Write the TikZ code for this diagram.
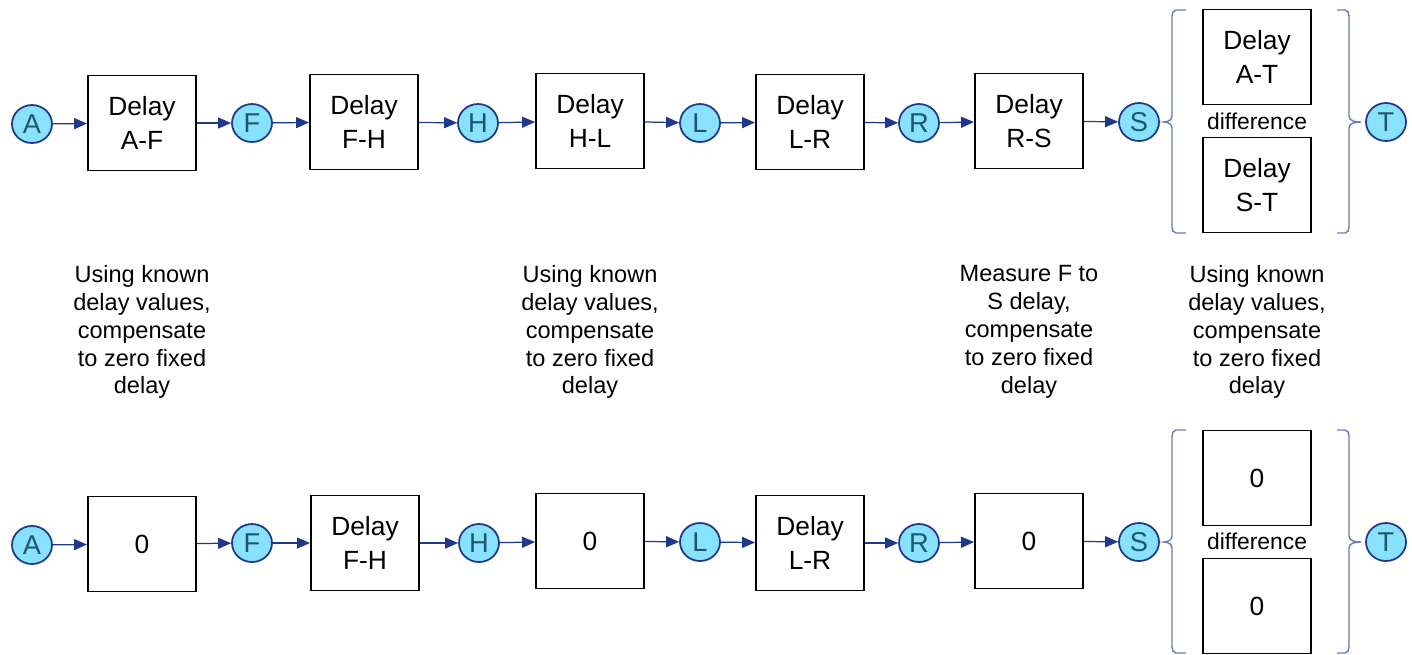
\documentclass[tikz,border=0pt]{standalone}
\usepackage{fontspec}
\setmainfont{Liberation Sans}
\usetikzlibrary{shapes.geometric,arrows.meta}
\definecolor{linkblue}{RGB}{31,56,140}
\definecolor{sigfill}{RGB}{136,226,255}
\definecolor{sigtext}{RGB}{30,88,104}
\definecolor{brkblue}{RGB}{105,125,180}

\begin{document}
\begin{tikzpicture}[x=0.02cm, y=-0.02cm,
          box/.style={draw, line width=1.1pt, minimum width=2.16cm, minimum height=1.9cm, align=center, inner sep=0pt, font=\fontsize{15}{19.5}\selectfont},
          sig/.style={ellipse, draw=linkblue, fill=sigfill, line width=1pt, minimum width=0.8cm, minimum height=0.76cm, inner sep=0pt, text=sigtext, font=\fontsize{15.5}{17}\selectfont},
          link/.style={-{Triangle[length=2.6mm, width=2.2mm]}, draw=linkblue, line width=0.7pt},
          note/.style={align=center, font=\fontsize{13.4}{15.9}\selectfont},
          diff/.style={font=\fontsize{13}{15}\selectfont},
          brk/.style={draw=brkblue, line width=0.8pt},
        ]
          \useasboundingbox (0,0) rectangle (1412,654);

          % upper chain
          \node[sig] (a1) at (32,124) {A};
          \node[box] (af1) at (142,123) {Delay\\A-F};
          \node[sig] (f1) at (252,123) {F};
          \node[box] (fh1) at (364,122) {Delay\\F-H};
          \node[sig] (h1) at (478,123) {H};
          \node[box] (hl1) at (590,121) {Delay\\H-L};
          \node[sig] (l1) at (700,123) {L};
          \node[box] (lr1) at (810,122) {Delay\\L-R};
          \node[sig] (r1) at (919,123) {R};
          \node[box] (rs1) at (1029,121) {Delay\\R-S};
          \node[sig] (s1) at (1139,122) {S};
          \node[box] (at1) at (1257,57) {Delay\\A-T};
          \node[diff] (diff1) at (1257,121) {difference};
          \node[box] (st1) at (1257,185) {Delay\\S-T};
          \node[sig] (t1) at (1386,122) {T};

          \draw[link] (a1) -- (af1);
          \draw[link] (af1) -- (f1);
          \draw[link] (f1) -- (fh1);
          \draw[link] (fh1) -- (h1);
          \draw[link] (h1) -- (hl1);
          \draw[link] (hl1) -- (l1);
          \draw[link] (l1) -- (lr1);
          \draw[link] (lr1) -- (r1);
          \draw[link] (r1) -- (rs1);
          \draw[link] (rs1) -- (s1);

          \draw[brk] (1186,10) -- (1176,10) to[out=180,in=90] (1172,16) -- (1172,116) to[out=270,in=0] (1164,122) to[out=0,in=90] (1172,128) -- (1172,227) to[out=270,in=180] (1176,233) -- (1186,233);
          \draw[brk] (1337,10) -- (1345,10) to[out=0,in=90] (1349,16) -- (1349,116) to[out=270,in=180] (1361,122) to[out=180,in=90] (1349,128) -- (1349,227) to[out=270,in=0] (1345,233) -- (1337,233);

          % notes
          \node[note] (note1) at (142,332) {Using known\\delay values,\\compensate\\to zero fixed\\delay};
          \node[note] (note2) at (590,332) {Using known\\delay values,\\compensate\\to zero fixed\\delay};
          \node[note] (note3) at (1029,332) {Measure F to\\S delay,\\compensate\\to zero fixed\\delay};
          \node[note] (note4) at (1257,332) {Using known\\delay values,\\compensate\\to zero fixed\\delay};

          % lower chain
          \node[sig] (a2) at (32,545) {A};
          \node[box] (af2) at (142,544) {0};
          \node[sig] (f2) at (252,543) {F};
          \node[box] (fh2) at (365,543) {Delay\\F-H};
          \node[sig] (h2) at (479,543) {H};
          \node[box] (hl2) at (590,541) {0};
          \node[sig] (l2) at (700,542) {L};
          \node[box] (lr2) at (810,543) {Delay\\L-R};
          \node[sig] (r2) at (919,543) {R};
          \node[box] (rs2) at (1029,541) {0};
          \node[sig] (s2) at (1139,542) {S};
          \node[box] (at2) at (1257,478) {0};
          \node[diff] (diff2) at (1257,541) {difference};
          \node[box] (st2) at (1257,606) {0};
          \node[sig] (t2) at (1386,542) {T};

          \draw[link] (a2) -- (af2);
          \draw[link] (af2) -- (f2);
          \draw[link] (f2) -- (fh2);
          \draw[link] (fh2) -- (h2);
          \draw[link] (h2) -- (hl2);
          \draw[link] (hl2) -- (l2);
          \draw[link] (l2) -- (lr2);
          \draw[link] (lr2) -- (r2);
          \draw[link] (r2) -- (rs2);
          \draw[link] (rs2) -- (s2);

          \draw[brk] (1186,430) -- (1176,430) to[out=180,in=90] (1172,436) -- (1172,536) to[out=270,in=0] (1164,542) to[out=0,in=90] (1172,548) -- (1172,647) to[out=270,in=180] (1176,653) -- (1186,653);
          \draw[brk] (1337,430) -- (1345,430) to[out=0,in=90] (1349,436) -- (1349,536) to[out=270,in=180] (1361,542) to[out=180,in=90] (1349,548) -- (1349,647) to[out=270,in=0] (1345,653) -- (1337,653);
        \end{tikzpicture}
\end{document}
